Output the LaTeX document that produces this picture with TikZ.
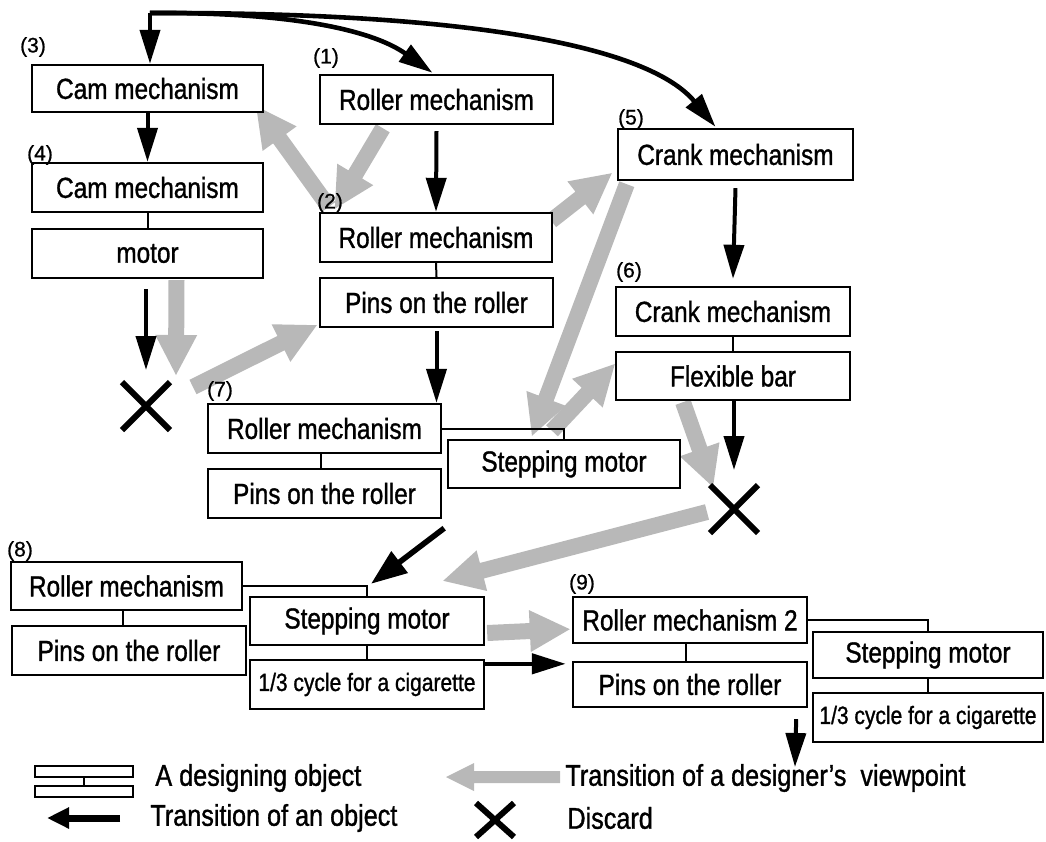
\documentclass[tikz,border=0pt]{standalone}
\usepackage{fontspec}
\setmainfont{Liberation Sans}[FakeStretch=0.84,FakeBold=1.1]
\newfontfamily\numfont{Liberation Sans}[FakeBold=0.8]
\usetikzlibrary{arrows.meta,calc,shapes.misc}
\pgfdeclarelayer{back}
\pgfsetlayers{back,main}
% fat halftone arrow for a change of viewpoint: tail #1, tip #2
\def\vsw{4pt}\def\vhw{10.5pt}\def\vhl{20pt}
\newcommand\viewarrow[2]{%
  \coordinate (va-n) at ($(#2)!\vhl!(#1)$);
  \fill[viewfill] ($(#1)!\vsw!90:(#2)$) -- ($(va-n)!\vsw!-90:(#1)$)
    -- ($(va-n)!\vhw!-90:(#1)$) -- (#2) -- ($(va-n)!\vhw!90:(#1)$)
    -- ($(va-n)!\vsw!90:(#1)$) -- ($(#1)!\vsw!-90:(#2)$) -- cycle;}
\begin{document}
\begin{tikzpicture}[x=0.5pt,y=-0.5pt,
  % a box spanning the corners (#1,#2) and (#3,#4)
  span/.style n args={4}{minimum width={(#3-#1)*0.5pt}, minimum height={(#4-#2)*0.5pt},
    at={({(#1+#3)/2},{(#2+#4)/2})}},
  obj/.style={draw, line width=1.2pt, fill=white, inner sep=0pt, anchor=center,
    font=\fontsize{14.5}{16}\selectfont},
  small/.style={font=\fontsize{12.5}{14}\selectfont},
  tag/.style={font=\numfont\fontsize{10.5}{12}\selectfont, inner sep=0pt},
  link/.style={line width=1pt},
  objarrow/.style={line width=2pt, -{Triangle[length=17pt,width=10pt]}},
  discard/.style={cross out, draw, line width=3pt, minimum size=21pt, inner sep=0pt},
  viewfill/.style={fill=black!28},
  legtext/.style={anchor=west, inner sep=0pt, font=\fontsize{15}{17}\selectfont}
]
\useasboundingbox (0,0) rectangle (1046,842);

% ---- designing objects ----
\node[obj, span={32}{65}{263}{112}]   (b3)  {Cam mechanism};
\node[obj, span={32}{163}{263}{212}]  (b4)  {Cam mechanism};
\node[obj, span={32}{229}{263}{278}]  (bm)  {motor};
\node[obj, span={320}{75}{553}{124}]  (b1)  {Roller mechanism};
\node[obj, span={320}{213}{552}{262}] (b2)  {Roller mechanism};
\node[obj, span={320}{278}{553}{327}] (bp2) {Pins on the roller};
\node[obj, span={618}{129}{853}{180}] (b5)  {Crank mechanism};
\node[obj, span={616}{287}{850}{336}] (b6)  {Crank mechanism};
\node[obj, span={616}{352}{850}{400}] (bf)  {Flexible bar};
\node[obj, span={208}{404}{441}{453}] (b7)  {Roller mechanism};
\node[obj, span={208}{469}{441}{518}] (b7p) {Pins on the roller};
\node[obj, span={448}{440}{680}{488}] (b7s) {Stepping motor};
\node[obj, span={11}{562}{242}{610}]  (b8)  {Roller mechanism};
\node[obj, span={12}{626}{246}{675}]  (b8p) {Pins on the roller};
\node[obj, span={250}{597}{484}{645}] (b8s) {Stepping motor};
\node[obj, small, span={250}{660}{484}{709}] (b8c) {1/3 cycle for a cigarette};
\node[obj, span={573}{597}{807}{643}] (b9)  {Roller mechanism 2};
\node[obj, span={573}{662}{807}{707}] (b9p) {Pins on the roller};
\node[obj, span={813}{632}{1043}{678}] (b9s) {Stepping motor};
\node[obj, small, span={813}{693}{1043}{742}] (b9c) {1/3 cycle for a cigarette};

% ---- step numbers ----
\node[tag] (t1) at (326,58)  {(1)};
\node[tag] (t2) at (330,203) {(2)};
\node[tag] (t3) at (33,47)   {(3)};
\node[tag] (t4) at (40,155)  {(4)};
\node[tag] (t5) at (631,119) {(5)};
\node[tag] (t6) at (629,272) {(6)};
\node[tag] (t7) at (220,391) {(7)};
\node[tag] (t8) at (20,551)  {(8)};
\node[tag] (t9) at (582,584) {(9)};

% ---- discarded states ----
\node[discard] (x1) at (146,406) {};
\node[discard] (x2) at (734,509) {};

% ---- part links inside an object ----
\draw[link] (b4.south) -- (bm.north);
\draw[link] (b2.south) -- (bp2.north);
\draw[link] (b6.south) -- (bf.north);
\draw[link] (b7.south -| 321,0) -- (b7p.north -| 321,0);
\draw[link] (b7.east) -| (b7s.north);
\draw[link] (b8.south -| 123,0) -- (b8p.north -| 123,0);
\draw[link] (b8.east) -| (b8s.north);
\draw[link] (b8s.south) -- (b8c.north);
\draw[link] (b9.south -| 686,0) -- (b9p.north -| 686,0);
\draw[link] (b9.east) -| (b9s.north);
\draw[link] (b9s.south) -- (b9c.north);

% ---- transitions of an object ----
\coordinate (top) at (150,13);
\draw[objarrow] (top) -- (top |- b3.north);
\draw[objarrow, line width=2.3pt] (top) .. controls (300,12) and (375,32) .. ($(b1.north)+(-4,-1)$);
\draw[objarrow, line width=2.3pt] (top) .. controls (480,12) and (650,48) .. ($(b5.north)+(-20,-1)$);
\draw[objarrow] (b3.south) -- (b4.north);
\draw[objarrow] ($(bm.south -| x1)+(0,10)$) -- ($(x1.north)+(0,-12)$);
\draw[objarrow] ($(b1.south)+(0,6)$) -- (b2.north);
\draw[objarrow] ($(bp2.south)+(0,3)$) -- (bp2.south |- b7.north);
\draw[objarrow] ($(b5.south)+(0,7)$) -- ($(b6.north)+(0,-7)$);
\draw[objarrow] (bf.south -| x2) -- ($(x2.north)+(0,-15)$);
\draw[objarrow, line width=2.8pt, -{Triangle[length=18pt,width=13pt]}]
  ($(b7p.south east)+(2,9)$) -- ($(b8s.north)+(4,-12)$);
\draw[objarrow, line width=2.3pt] ($(b8c.north east)+(0,5)$) -- ($(b9p.north west)+(-6,3)$);
\coordinate (out9) at (795,767);
\draw[objarrow] ($(b9p.south east)+(-12,11)$) -- (out9);

% ---- transitions of the designer's viewpoint ----
\begin{pgfonlayer}{back}
  \coordinate (g1a) at ($(b1.south west)+(64,3)$);   \coordinate (g1b) at ($(b2.north west)+(16,-3)$);
  \coordinate (g2a) at ($(b2.north west)+(10,-5)$);  \coordinate (g2b) at ($(b3.south east)+(-8,-7)$);
  \coordinate (g3a) at ($(bm.south)+(29,1)$);        \coordinate (g3b) at ($(x1.north)+(30,-7)$);
  \coordinate (g4a) at ($(x1.east)+(23,-19)$);       \coordinate (g4b) at ($(bp2.south west)+(-2,-3)$);
  \coordinate (g5a) at ($(b2.north east)+(-2,9)$);   \coordinate (g5b) at ($(b5.south west)+(-5,-8)$);
  \coordinate (g6a) at ($(b5.south west)+(10,3)$);   \coordinate (g6b) at ($(b7s.north)+(-32,-3)$);
  \coordinate (g7a) at ($(b7s.north)+(-12,-8)$);     \coordinate (g7b) at ($(bf.west)+(0,-12)$);
  \coordinate (g8a) at ($(bf.south)+(-50,1)$);       \coordinate (g8b) at ($(x2.north west)+(3,2)$);
  \coordinate (g9a) at ($(x2.west)+(-3,3)$);         \coordinate (g9b) at ($(b8s.north east)+(-42,-15)$);
  \coordinate (g10a) at ($(b8s.east)+(2,12)$);       \coordinate (g10b) at ($(b9.south west)+(-2,-15)$);
  \viewarrow{g1a}{g1b}
  \viewarrow{g2a}{g2b}
  \viewarrow{g3a}{g3b}
  \viewarrow{g4a}{g4b}
  \viewarrow{g5a}{g5b}
  \viewarrow{g6a}{g6b}
  \viewarrow{g7a}{g7b}
  \viewarrow{g8a}{g8b}
  \viewarrow{g9a}{g9b}
  \viewarrow{g10a}{g10b}
\end{pgfonlayer}

% ---- legend ----
\node[obj, line width=1pt, span={35}{766}{133}{777}] (lg1) {};
\node[obj, line width=1pt, span={35}{786}{133}{797}] (lg2) {};
\draw[link] (lg1.south) -- (lg2.north);
\node[legtext] (lt1) at (155,778) {A designing object};
\coordinate (lva) at (560,777); \coordinate (lvb) at (446,777);
{\def\vsw{3pt}\def\vhw{7pt}\def\vhl{14pt}\viewarrow{lva}{lvb}}
\node[legtext] (lt2) at (565,778) {Transition of a designer's~ viewpoint};
\coordinate (loa) at (120,818); \coordinate (lob) at (47,818);
\draw[line width=3.5pt, -{Triangle[length=11pt,width=10pt]}] (loa) -- (lob);
\node[legtext] (lt3) at (150,818) {Transition of an object};
\node[discard, minimum width=16pt, minimum height=14pt] (lx) at (495,820) {};
\node[legtext] (lt4) at (567,818) {Discard};
\end{tikzpicture}
\end{document}
